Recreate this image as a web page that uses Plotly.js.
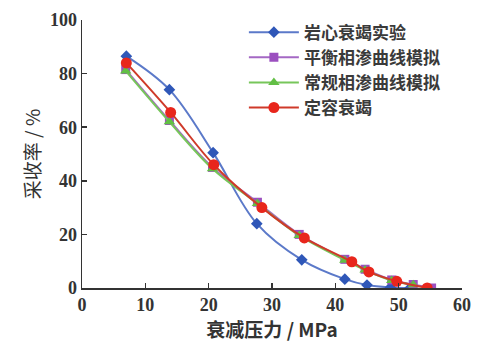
<!DOCTYPE html>
<html>
<head>
<meta charset="utf-8">
<script src="https://cdn.plot.ly/plotly-3.0.1.min.js"></script>
<style>html,body{margin:0;padding:0;background:#fff;}#chart{width:478px;height:347px;}</style>
</head>
<body>
<div id="chart"></div>
<script>
// 岩心衰竭实验
var expX = [7.0, 13.8, 20.7, 27.6, 34.7, 41.5, 45.0, 48.7, 51.8];
var expY = [86.5, 74.0, 50.5, 24.0, 10.5, 3.3, 1.1, 0.2, 0.0];
// 平衡相渗曲线模拟
var eqX = [6.9, 13.8, 20.6, 27.7, 34.3, 41.5, 44.7, 48.9, 52.3, 55.2];
var eqY = [81.5, 62.5, 45.0, 32.0, 20.0, 10.7, 7.0, 3.0, 1.3, 0.0];
// 常规相渗曲线模拟
var conX = [6.9, 13.8, 20.6, 27.7, 34.3, 41.5, 44.7, 48.9, 52.3];
var conY = [81.0, 62.0, 44.5, 31.5, 19.6, 10.4, 6.7, 2.8, 1.2];
// 定容衰竭
var cvX = [7.0, 14.0, 20.8, 28.4, 35.1, 42.6, 45.3, 49.7, 54.5];
var cvY = [84.0, 65.5, 46.0, 30.0, 18.7, 9.8, 6.0, 2.5, 0.0];

var names = ['岩心衰竭实验', '平衡相渗曲线模拟', '常规相渗曲线模拟', '定容衰竭'];
var xTicks = [0, 10, 20, 30, 40, 50, 60];
var yTicks = [0, 20, 40, 60, 80, 100];

var traces = [
  {x: expX, y: expY, name: names[0], mode: 'lines+markers',
   line: {color: '#5b79c9', width: 2, shape: 'spline'},
   marker: {symbol: 'diamond', size: 9, color: '#2f57b8'}},
  {x: eqX, y: eqY, name: names[1], mode: 'lines+markers',
   line: {color: '#a468c4', width: 2, shape: 'spline'},
   marker: {symbol: 'square', size: 9, color: '#9b4fbf'}},
  {x: conX, y: conY, name: names[2], mode: 'lines+markers',
   line: {color: '#77c65a', width: 2, shape: 'spline'},
   marker: {symbol: 'triangle-up', size: 10, color: '#62bf45'}},
  {x: cvX, y: cvY, name: names[3], mode: 'lines+markers',
   line: {color: '#cf3a2a', width: 2, shape: 'spline'},
   marker: {symbol: 'circle', size: 11, color: '#e8261c'}}
];

var layout = {
  width: 478, height: 347,
  margin: {l: 82, r: 16, t: 20, b: 59},
  paper_bgcolor: '#fff', plot_bgcolor: '#fff',
  showlegend: true,
  legend: {x: 0.426, y: 1.02, xanchor: 'left', yanchor: 'top',
    bgcolor: 'rgba(255,255,255,0.9)', borderwidth: 0,
    font: {family: 'Noto Sans CJK SC', size: 17, color: '#3a3a3a', weight: 'bold'},
    tracegroupgap: 0, itemwidth: 50},
  xaxis: {range: [0, 60], tickvals: xTicks, ticktext: xTicks.map(String),
    showgrid: false, zeroline: false, showline: true, linecolor: '#333', linewidth: 1.5,
    ticks: 'inside', ticklen: 5, tickcolor: '#333', tickwidth: 1.5,
    tickfont: {family: 'Liberation Serif', size: 18, color: '#333', weight: 'bold'},
    title: {text: '衰减压力 / MPa', standoff: 9,
      font: {family: 'Noto Sans CJK SC', size: 19, color: '#333', weight: 'bold'}}},
  yaxis: {range: [0, 100], tickvals: yTicks, ticktext: yTicks.map(String),
    showgrid: false, zeroline: false, showline: true, linecolor: '#333', linewidth: 1.5,
    ticks: 'inside', ticklen: 5, tickcolor: '#333', tickwidth: 1.5,
    tickfont: {family: 'Liberation Serif', size: 18, color: '#333', weight: 'bold'},
    title: {text: '采收率 / %', standoff: 4,
      font: {family: 'Noto Sans CJK SC', size: 19, color: '#333'}}}
};

Plotly.newPlot('chart', traces, layout, {displayModeBar: false, staticPlot: true});
</script>
</body>
</html>
